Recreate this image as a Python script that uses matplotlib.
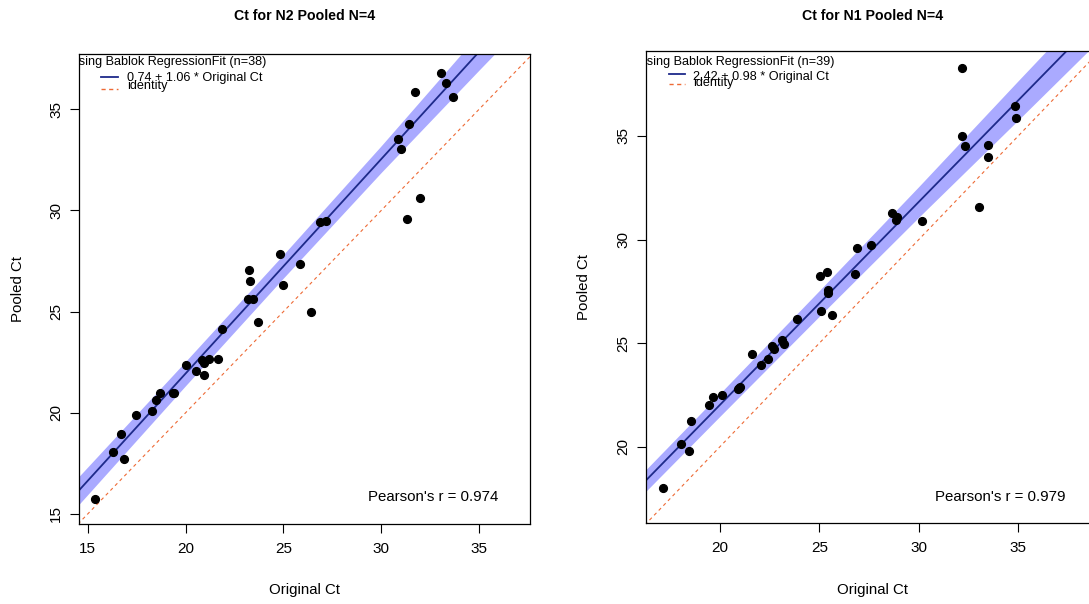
import numpy as np
import matplotlib
matplotlib.use("Agg")
import matplotlib.pyplot as plt

plt.rcParams['font.family'] = ['Liberation Sans', 'DejaVu Sans']

# ---------------- data ----------------
n2_original = [33.06, 33.32, 31.73, 33.66, 31.41, 30.86, 31.00, 31.99, 31.32, 26.86,
               27.18, 24.83, 25.87, 23.23, 23.28, 24.97, 23.21, 23.44, 26.42, 23.72,
               21.88, 20.03, 20.55, 20.86, 20.96, 21.22, 21.65, 20.96, 19.35, 19.40,
               18.71, 18.48, 18.29, 17.47, 16.69, 16.29, 16.84, 15.39]
n2_pooled = [36.82, 36.30, 35.87, 35.59, 34.26, 33.54, 33.04, 30.62, 29.56, 29.43,
             29.46, 27.84, 27.36, 27.08, 26.51, 26.34, 25.61, 25.64, 24.97, 24.49,
             24.16, 22.34, 22.06, 22.60, 22.47, 22.67, 22.64, 21.86, 20.96, 20.96,
             20.96, 20.63, 20.10, 19.88, 18.96, 18.05, 17.71, 15.75]

n1_original = [32.17, 34.84, 34.87, 32.17, 32.34, 33.50, 33.50, 33.01, 28.67, 28.89,
               28.85, 30.18, 26.89, 27.61, 25.05, 25.40, 26.81, 25.42, 25.42, 25.10,
               25.62, 23.86, 21.63, 22.08, 22.40, 22.63, 22.72, 23.13, 23.20, 20.91,
               20.99, 20.95, 20.10, 19.66, 19.46, 18.54, 18.04, 18.43, 17.12]
n1_pooled = [38.26, 36.43, 35.86, 35.01, 34.49, 34.54, 33.98, 31.58, 31.26, 31.11,
             30.92, 30.87, 29.60, 29.74, 28.25, 28.42, 28.33, 27.57, 27.41, 26.54,
             26.36, 26.15, 24.48, 23.95, 24.22, 24.86, 24.71, 25.15, 24.95, 22.79,
             22.87, 22.83, 22.48, 22.39, 22.01, 21.23, 20.13, 19.81, 18.02]

# Passing-Bablok fits (intercept, slope) and Pearson r as printed
n2_fit = (0.74, 1.06)
n1_fit = (2.42, 0.98)
n2_r = 0.974
n1_r = 0.979

# confidence band half-width (vertical, Ct units) read at a few x positions
n2_band_x = [14.0, 20.0, 25.0, 30.0, 35.0, 38.0]
n2_band_hw = [0.70, 0.60, 0.58, 0.66, 0.90, 1.08]
n1_band_x = [16.0, 20.0, 25.0, 30.0, 35.0, 39.5]
n1_band_hw = [0.52, 0.55, 0.62, 0.74, 0.95, 1.10]

titles = ["Ct for N2 Pooled N=4", "Ct for N1 Pooled N=4"]
xlabel = "Original Ct"
ylabel = "Pooled Ct"
ticks = [15, 20, 25, 30, 35]

# ---------------- figure ----------------
W, H = 1089, 604
fig = plt.figure(figsize=(W / 100, H / 100), dpi=100)

def fpos(l, r, t, b):
    return [l / W, (H - b) / H, (r - l) / W, (b - t) / H]

ax1 = fig.add_axes(fpos(79, 530.3, 54.3, 524.3))
ax2 = fig.add_axes(fpos(646.3, 1099.6, 51, 523.3))

band_col = '#AAAAFF'
line_col = '#1E2A8A'
ident_col = '#EE6A35'
fs_tick = 11
fs_lab = 10.8
fs_leg = 9.1

panels = [
    (ax1, n2_original, n2_pooled, n2_fit, n2_r, n2_band_x, n2_band_hw,
     (14.555, 37.62), (14.49, 37.72), 38, titles[0],
     dict(tx=-0.0487, ty=0.9836, lx=(0.0487, 0.0864), ly1=0.9523, tx1=0.1057, ty1=0.9496,
          ly2=0.9262, ty2=0.9326, px=0.6397, py=0.0581, ylx=-0.1360, xly=-0.1398)),
    (ax2, n1_original, n1_pooled, n1_fit, n1_r, n1_band_x, n1_band_hw,
     (16.294, 39.09), (16.30, 39.10), 39, titles[1],
     dict(tx=-0.0474, ty=0.9773, lx=(0.0501, 0.0854), ly1=0.9513, tx1=0.1024, ty1=0.9456,
          ly2=0.9295, ty2=0.9316, px=0.6369, py=0.0563, ylx=-0.1385, xly=-0.1410)),
]

for ax, xo, yp, fit, r, bx, bhw, xl, yl, n, title, L in panels:
    a, b = fit
    xs = np.linspace(xl[0] - 1, xl[1] + 1, 200)
    fitline = a + b * xs
    hw = np.interp(xs, bx, bhw)
    ax.fill_between(xs, fitline - hw, fitline + hw, color=band_col, lw=0, zorder=1)
    ax.plot(xs, fitline, color=line_col, lw=1.3, zorder=2)
    ax.plot(xs, xs, color=ident_col, lw=0.8, dashes=(3, 3), zorder=2)
    ax.plot(xo, yp, 'o', color='black', ms=5.6, mec='black', zorder=3)

    visible = [t for t in ticks]
    ax.set_xticks(visible)
    ax.set_yticks(visible)
    ax.set_xlim(*xl)
    ax.set_ylim(*yl)
    ax.tick_params(direction='out', length=6.5, width=0.8, labelsize=fs_tick)
    ax.tick_params(axis='x', pad=6.5)
    ax.tick_params(axis='y', pad=5)
    for lab in ax.get_yticklabels():
        lab.set_rotation(90)
        lab.set_va('center')
    for s in ax.spines.values():
        s.set_linewidth(0.9)
        s.set_color('black')

    ax.set_xlabel(xlabel, fontsize=fs_lab)
    ax.set_ylabel(ylabel, fontsize=fs_lab)
    ax.xaxis.set_label_coords(0.5, L['xly'])
    ax.xaxis.label.set_va('center')
    ax.yaxis.set_label_coords(L['ylx'], 0.5)
    ax.yaxis.label.set_va('center')

    # title in figure coordinates (right panel is cut by the figure edge)
    bb = ax.get_position()
    fig.text(bb.x0 + bb.width / 2, (H - 16.5) / H, title, ha='center', va='center',
             fontsize=10.2, fontweight='bold')

    # legend drawn manually (title is clipped by the plot region as in the original)
    ax.text(L['tx'], L['ty'], f"Passing Bablok RegressionFit (n={n})", transform=ax.transAxes,
            ha='left', va='center', fontsize=fs_leg, clip_on=True, zorder=5)
    ax.plot(L['lx'], [L['ly1']] * 2, transform=ax.transAxes, color=line_col, lw=1.3, zorder=5)
    ax.text(L['tx1'], L['ty1'], f"{a:.2f} + {b:.2f} * Original Ct", transform=ax.transAxes,
            ha='left', va='center', fontsize=fs_leg, zorder=5)
    ax.plot(L['lx'], [L['ly2']] * 2, transform=ax.transAxes, color=ident_col, lw=1.0,
            dashes=(3, 2.5), zorder=5)
    ax.text(L['tx1'], L['ty2'], "identity", transform=ax.transAxes,
            ha='left', va='center', fontsize=fs_leg, zorder=5)

    ax.text(L['px'], L['py'], f"Pearson's r = {r:.3f}", transform=ax.transAxes,
            ha='left', va='center', fontsize=fs_lab)

fig.savefig("out.png", dpi=100)
